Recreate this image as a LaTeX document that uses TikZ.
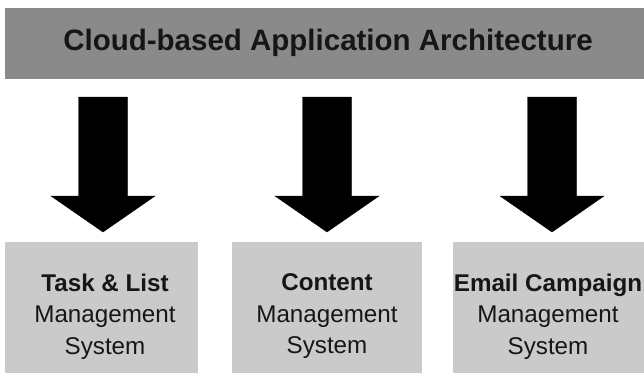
\documentclass[tikz,border=0pt]{standalone}
\usepackage{fontspec}
\setmainfont{Liberation Sans}
\usetikzlibrary{calc}
\definecolor{bannergray}{RGB}{138,138,138}
\definecolor{boxgray}{RGB}{202,202,202}
\definecolor{inkdark}{RGB}{22,22,22}
\begin{document}
\begin{tikzpicture}[x=1pt,y=-1pt,
  banner/.style={fill=bannergray, draw=none},
  sysbox/.style={fill=boxgray, draw=none},
  systext/.style={align=center, text=inkdark, font=\fontsize{24.2}{31.5}\selectfont},
  blockarrow/.style={fill=black, draw=black, line width=0.4pt, line join=miter}]
\useasboundingbox (0,0) rectangle (644,378);
\fill[white] (0,0) rectangle (644,378);
% banner
\fill[banner] (5,8) rectangle (644,79);
\node[text=inkdark, font=\fontsize{29.5}{35}\selectfont\bfseries] (title) at (328,43) {Cloud-based Application Architecture};
% boxes
\fill[sysbox] (5,242) rectangle (198,373);
\fill[sysbox] (232,242) rectangle (422,373);
\fill[sysbox] (453,242) rectangle (644,373);
\node[systext] (s1) at (105,316.5) {\textbf{Task \& List}\\Management\\System};
\node[systext] (s2) at (327,316.5) {\textbf{Content}\\Management\\System};
\node[systext] (s3) at (548,316.5) {\textbf{Email Campaign}\\Management\\System};
% arrows
\foreach \cx/\nm in {103/a1,327/a2,552/a3}{
  \coordinate (\nm) at (\cx,97);
  \fill[blockarrow] ($(\nm)+(-24.5,0)$) -- ($(\nm)+(24.5,0)$) -- ($(\nm)+(24.5,99)$) -- ($(\nm)+(52,99)$) -- ($(\nm)+(0,135)$) -- ($(\nm)+(-52,99)$) -- ($(\nm)+(-24.5,99)$) -- cycle;
}
\end{tikzpicture}
\end{document}
